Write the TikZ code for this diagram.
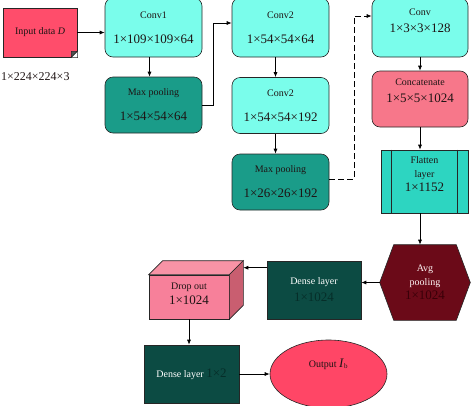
\documentclass[tikz,border=0pt]{standalone}
\usepackage{fontspec}
\setmainfont{Liberation Serif}
\usepackage{tikz}
\usetikzlibrary{arrows.meta,positioning,calc,backgrounds,shapes.geometric}
\definecolor{Edge}{HTML}{262626}
\definecolor{Ink}{HTML}{1E1414}
\definecolor{ConvFill}{HTML}{7AFDEB}
\definecolor{PoolFill}{HTML}{1A9C89}
\definecolor{InputFill}{HTML}{FF4D6B}
\definecolor{ConcatFill}{HTML}{F7778A}
\definecolor{FlatFill}{HTML}{2DD5C1}
\definecolor{AvgFill}{HTML}{6B0A18}
\definecolor{AvgInk}{HTML}{3A0008}
\definecolor{DenseFill}{HTML}{0C4B43}
\definecolor{DenseInk}{HTML}{062E29}
\definecolor{DropFill}{HTML}{F7809A}
\definecolor{DropTop}{HTML}{F893A6}
\definecolor{DropSide}{HTML}{C95E70}
\definecolor{OutFill}{HTML}{FF4666}
\newcommand{\namefont}{\fontsize{10}{12}\selectfont}
\newcommand{\sizefont}{\fontsize{13}{15}\selectfont}

\begin{document}
\begin{tikzpicture}[x=1pt,y=-1pt,
  box/.style={draw=Edge,line width=0.6pt,align=center,font=\namefont,text=Ink,inner sep=2pt},
  conv/.style={box,rounded corners=8pt,fill=ConvFill,minimum width=97pt,minimum height=59pt},
  pool/.style={box,rounded corners=8pt,fill=PoolFill,minimum width=97pt,minimum height=56pt},
  dense/.style={box,fill=DenseFill,text=white,minimum width=95pt,minimum height=58pt},
  arrow/.style={-{Latex[length=5pt,width=4pt]},line width=0.7pt,draw=black}
]
  \useasboundingbox (0,0) rectangle (474,405);

  \node[box,fill=InputFill,minimum width=74pt,minimum height=49pt] (inp) at (40,32.5) {Input data \textit{D}};
  \fill[white] ([xshift=-6pt]inp.south east) -- (inp.south east) -- ([yshift=6pt]inp.south east) -- cycle;
  \filldraw[draw=Edge,fill=Edge!80,line width=0.6pt] ([xshift=-6pt]inp.south east) -- ([yshift=6pt]inp.south east) -- ([shift={(-6,-6)}]inp.south east) -- cycle;
  \node[anchor=west,font=\fontsize{12}{14}\selectfont,text=Ink,inner sep=0pt] (inpsize) at (1,77) {1×224×224×3};

  \node[conv] (conv1) at (153.5,27.5) {Conv1\\[13pt]{\sizefont 1×109×109×64}};
  \node[pool] (mp1) at (153.5,105) {Max pooling\\[13pt]{\sizefont 1×54×54×64}};
  \node[conv] (conv2a) at (280.5,27.5) {Conv2\\[13pt]{\sizefont 1×54×54×64}};
  \node[pool,fill=ConvFill] (conv2b) at (280.5,105.5) {Conv2\\[13pt]{\sizefont 1×54×54×192}};
  \node[pool] (mp2) at (280.5,182) {Max pooling\\[13pt]{\sizefont 1×26×26×192}};
  \node[conv,minimum width=96pt,text depth=13pt] (conv3) at (420,27.5) {Conv\\[5pt]{\sizefont 1×3×3×128}};
  \node[pool,fill=ConcatFill,minimum width=96pt,text depth=16pt] (concat) at (420,99) {Concatenate\\[5pt]{\sizefont 1×5×5×1024}};
  \node[box,fill=FlatFill,minimum width=87pt,minimum height=63pt,text depth=14pt] (flat) at (424.5,181.5) {Flatten\\[2pt]layer\\[2pt]{\sizefont 1×1152}};
  \draw[draw=Edge,line width=0.6pt] ([xshift=11pt]flat.north west) -- ([xshift=11pt]flat.south west)
    ([xshift=-11pt]flat.north east) -- ([xshift=-11pt]flat.south east);

  \node[box,draw=none,text=white!85!pink,minimum width=90pt,minimum height=75pt] (avg) at (425,282.5) {Avg\\[2pt]pooling\\[2pt]{\sizefont\color{AvgInk}1×1024}};
  \begin{scope}[on background layer]
    \filldraw[draw=Edge,fill=AvgFill,line width=0.6pt] (avg.west) -- ([xshift=14pt]avg.north west) -- ([xshift=-14pt]avg.north east)
      -- (avg.east) -- ([xshift=-14pt]avg.south east) -- ([xshift=14pt]avg.south west) -- cycle;
  \end{scope}

  \node[dense,minimum width=94pt] (dense1) at (314,290) {Dense layer\\[5pt]{\sizefont\color{DenseInk}1×1024}};
  \node[box,fill=DropFill,minimum width=80pt,minimum height=44pt,text depth=7pt] (drop) at (189,297) {Drop out\\[3pt]{\sizefont 1×1024}};
  \filldraw[draw=Edge,fill=DropTop,line width=0.6pt] (drop.north west) -- ([shift={(14,-14)}]drop.north west)
    -- ([shift={(14,-14)}]drop.north east) -- (drop.north east) -- cycle;
  \filldraw[draw=Edge,fill=DropSide,line width=0.6pt] (drop.north east) -- ([shift={(14,-14)}]drop.north east)
    -- ([shift={(14,-14)}]drop.south east) -- (drop.south east) -- cycle;
  \coordinate (dropside) at ([shift={(14,-7)}]drop.north east);

  \node[dense] (dense2) at (191.5,374) {Dense layer {\sizefont\color{DenseInk}1×2}};
  \node[box,ellipse,fill=OutFill,minimum width=117pt,minimum height=68pt,text depth=22pt] (out) at (328.5,374) {Output {\sizefont\textit{I}}\textsubscript{b}};

  \draw[arrow] (inp.east) -- (inp.east -| conv1.west);
  \draw[arrow] ([xshift=-4pt]conv1.south) -- ([xshift=-4pt]mp1.north);
  \draw[arrow] (mp1.east) -- ++(11,0) |- ([yshift=4.5pt]conv2a.west);
  \draw[arrow] ([xshift=-5pt]conv2a.south) -- ([xshift=-5pt]conv2b.north);
  \draw[arrow] ([xshift=-5pt]conv2b.south) -- ([xshift=-5pt]mp2.north);
  \draw[arrow,dash pattern=on 6pt off 3pt] ([yshift=3pt]mp2.east) -- ++(25,0) |- ([yshift=11.5pt]conv3.west);
  \draw[arrow] (conv3.south) -- (concat.north);
  \draw[arrow] (concat.south) -- (concat.south |- flat.north);
  \draw[arrow] (concat.south |- flat.south) -- (concat.south |- avg.north);
  \draw[arrow] (avg.west) -- (avg.west -| dense1.east);
  \draw[arrow] (dense1.west |- dropside) -- (dropside);
  \draw[arrow] (drop.south) -- (drop.south |- dense2.north);
  \draw[arrow] (dense2.east) -- (out.west);
\end{tikzpicture}
\end{document}
